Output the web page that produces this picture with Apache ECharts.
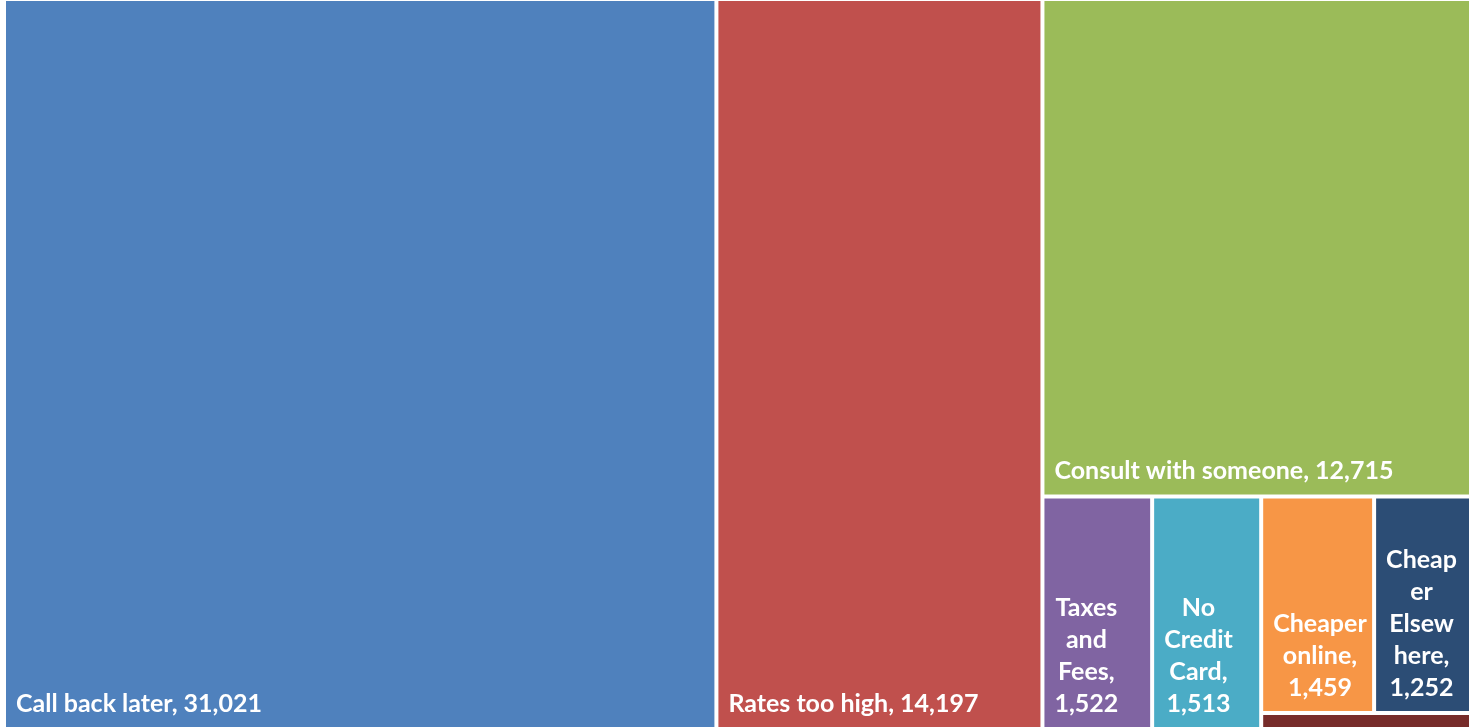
<!DOCTYPE html>
<html>
<head>
<meta charset="utf-8">
<title>Reasons for not booking</title>
<script src="https://cdn.jsdelivr.net/npm/echarts@6/dist/echarts.min.js"></script>
<style>
  html, body { margin: 0; padding: 0; background: #ffffff; overflow: hidden; }
  #chart { width: 1473px; height: 728px; }
</style>
</head>
<body>
<div id="chart"></div>
<script>
// Reasons given on calls that did not convert, with their counts
const categories = ['Call back later', 'Rates too high', 'Consult with someone', 'Taxes and Fees',
  'No Credit Card', 'Cheaper online', 'Cheaper Elsewhere', 'Other'];
const counts = [31021, 14197, 12715, 1522, 1513, 1459, 1252, 200];

// Tile captions; narrow tiles wrap their caption over several lines, empty means no caption
const captions = ['Call back later', 'Rates too high', 'Consult with someone', 'Taxes\nand\nFees',
  'No\nCredit\nCard', 'Cheaper\nonline', 'Cheap\ner\nElsew\nhere', ''];

const palette = ['#4F81BD', '#C0504D', '#9BBB59', '#8064A2', '#4BACC6', '#F79646', '#2C4D75', '#772C2A'];

// How the tiles nest: each group holds the tile laid out first and the rest of its area
const tiling = [[0, 1], [2, [[3, 4], [[5, 6], 7]]]];

const FONT_SIZE = 25;
const LINE_HEIGHT = 32;
const FONT_FAMILY = 'Lato';

const measureCtx = document.createElement('canvas').getContext('2d');
measureCtx.font = 'bold ' + FONT_SIZE + 'px ' + FONT_FAMILY;

const fmt = n => n.toLocaleString('en-US');

function leaf(i) {
  const item = { name: categories[i], value: counts[i], itemStyle: { color: palette[i] } };
  if (!captions[i]) {
    item.label = { show: false };
    return item;
  }
  const stacked = captions[i].indexOf('\n') >= 0;
  const text = captions[i] + (stacked ? ',\n' : ', ') + fmt(counts[i]);
  item.label = { formatter: () => text };
  if (stacked) {
    // lines are centred on each other, the block keeps the left inset
    const widest = Math.max(...text.split('\n').map(l => measureCtx.measureText(l).width));
    item.label.align = 'center';
    item.label.offset = [widest / 2 + 5, 0];
  }
  return item;
}

function build(spec) {
  if (typeof spec === 'number') return leaf(spec);
  return { name: '', children: spec.map(build) };
}

const chart = echarts.init(document.getElementById('chart'), null, { renderer: 'canvas' });
chart.setOption({
  animation: false,
  series: [{
    type: 'treemap',
    left: 6,
    top: 1,
    width: 1463,
    height: 726,
    roam: false,
    nodeClick: false,
    silent: true,
    sort: 'desc',
    breadcrumb: { show: false },
    itemStyle: { borderWidth: 0, gapWidth: 4, borderColor: '#ffffff' },
    upperLabel: { show: false },
    label: {
      show: true,
      position: 'insideBottomLeft',
      distance: 0,
      padding: [0, 0, 7, 10],
      color: '#ffffff',
      fontFamily: FONT_FAMILY,
      fontWeight: 'bold',
      fontSize: FONT_SIZE,
      lineHeight: LINE_HEIGHT,
      overflow: 'none'
    },
    data: tiling.map(build)
  }]
});
</script>
</body>
</html>
